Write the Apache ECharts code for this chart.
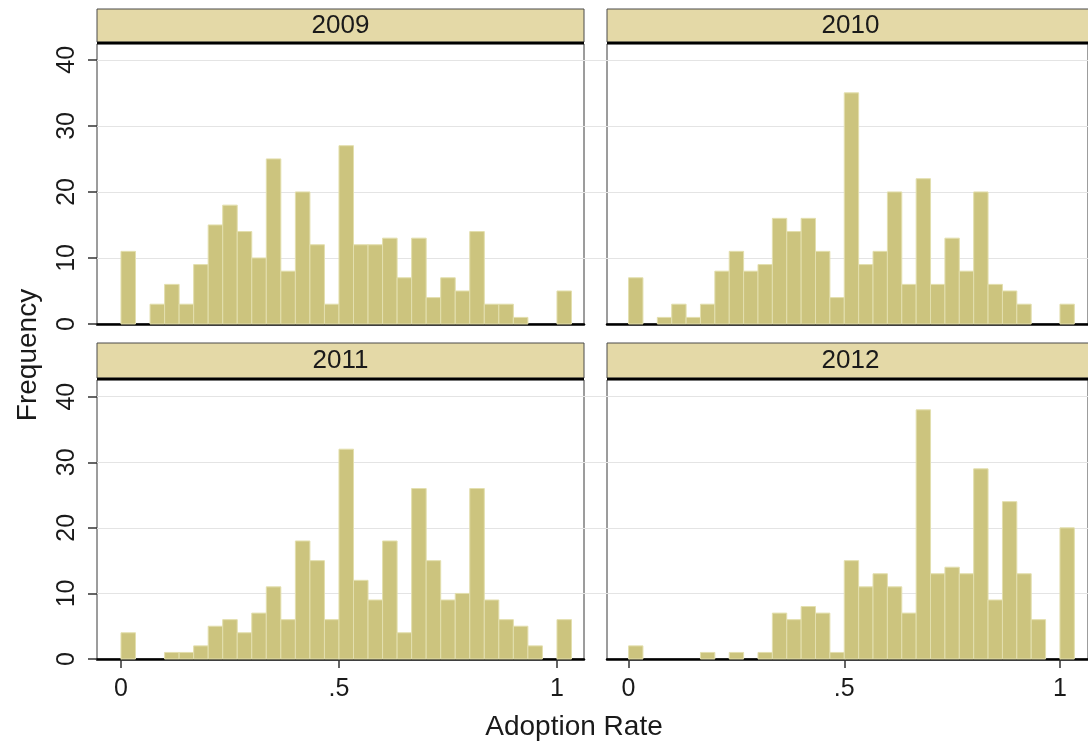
<!DOCTYPE html>
<html>
<head>
<meta charset="utf-8">
<title>Adoption Rate by Year</title>
<script src="https://cdn.jsdelivr.net/npm/echarts@6/dist/echarts.min.js"></script>
<style>
  html, body { margin: 0; padding: 0; background: #ffffff; }
  #chart { width: 1088px; height: 745px; }
</style>
</head>
<body>
<div id="chart"></div>
<script>
// Histogram bins: width 1/30 starting at 0 (the last bin starts at 1.0)
const years = ['2009', '2010', '2011', '2012'];
const binWidth = 1 / 30;

// Frequency per bin, one array per year
const freq2009 = [11, 0, 3, 6, 3, 9, 15, 18, 14, 10, 25, 8, 20, 12, 3, 27, 12, 12, 13, 7, 13, 4, 7, 5, 14, 3, 3, 1, 0, 0, 5];
const freq2010 = [7, 0, 1, 3, 1, 3, 8, 11, 8, 9, 16, 14, 16, 11, 4, 35, 9, 11, 20, 6, 22, 6, 13, 8, 20, 6, 5, 3, 0, 0, 3];
const freq2011 = [4, 0, 0, 1, 1, 2, 5, 6, 4, 7, 11, 6, 18, 15, 6, 32, 12, 9, 18, 4, 26, 15, 9, 10, 26, 9, 6, 5, 2, 0, 6];
const freq2012 = [2, 0, 0, 0, 0, 1, 0, 1, 0, 1, 7, 6, 8, 7, 1, 15, 11, 13, 11, 7, 38, 13, 14, 13, 29, 9, 24, 13, 6, 0, 20];

// Axis ticks
const yTickValues = [0, 10, 20, 30, 40];
const xTickValues = [0, 0.5, 1];
const xTickLabels = ['0', '.5', '1'];

const xTitle = 'Adoption Rate';
const yTitle = 'Frequency';

const allFreq = [freq2009, freq2010, freq2011, freq2012];

// Panel geometry (pixels) and axis extents
const panels = [
  { left: 97,  top: 44,  width: 487, height: 280, xMin: -0.055, xMax: 1.062, yMax: 42.4, stripTop: 9,   stripH: 33, col: 0, row: 0 },
  { left: 607, top: 44,  width: 487, height: 280, xMin: -0.050, xMax: 1.065, yMax: 42.4, stripTop: 9,   stripH: 33, col: 1, row: 0 },
  { left: 97,  top: 380, width: 487, height: 279, xMin: -0.055, xMax: 1.062, yMax: 42.55, stripTop: 343, stripH: 35, col: 0, row: 1 },
  { left: 607, top: 380, width: 487, height: 279, xMin: -0.050, xMax: 1.065, yMax: 42.55, stripTop: 343, stripH: 35, col: 1, row: 1 }
];

const FONT = '"Liberation Sans", Arial, Helvetica, sans-serif';
const BAR_FILL = '#ccc47e';
const BAR_EDGE = '#e3dfae';
const STRIP_FILL = '#e4d9a7';
const GRID_LINE = '#e4e4e4';
const INK = '#1a1a1a';

function renderBin(params, api) {
  const x0 = api.value(0);
  const n = api.value(1);
  if (!n) return null;
  const p0 = api.coord([x0, n]);
  const p1 = api.coord([x0 + binWidth, 0]);
  return {
    type: 'rect',
    shape: { x: p0[0], y: p0[1], width: p1[0] - p0[0], height: p1[1] - p0[1] },
    style: { fill: BAR_FILL, stroke: BAR_EDGE, lineWidth: 1 }
  };
}

const grids = panels.map(p => ({
  left: p.left, top: p.top, width: p.width, height: p.height,
  show: true, backgroundColor: '#ffffff', borderColor: '#3a3a3a', borderWidth: 1
}));

const xAxes = panels.map((p, i) => {
  const bottomRow = p.row === 1;
  return {
    type: 'value', gridIndex: i, min: p.xMin, max: p.xMax,
    axisLine: { show: true, onZero: false, lineStyle: { color: '#000', width: 2.5 } },
    axisTick: { show: bottomRow, customValues: xTickValues, length: 9, lineStyle: { color: '#333', width: 1.5 } },
    axisLabel: {
      show: bottomRow, customValues: xTickValues, margin: 18,
      fontFamily: FONT, fontSize: 25, color: INK,
      formatter: v => xTickLabels[xTickValues.indexOf(v)] ?? ''
    },
    splitLine: { show: false }
  };
});

const yAxes = panels.map((p, i) => {
  const leftCol = p.col === 0;
  const tickVals = leftCol ? yTickValues : yTickValues.slice(1);
  return {
    type: 'value', gridIndex: i, min: 0, max: p.yMax,
    axisLine: { show: false, onZero: false },
    axisTick: {
      show: true, customValues: tickVals,
      length: leftCol ? 9 : 23,
      lineStyle: { color: leftCol ? '#333' : GRID_LINE, width: leftCol ? 1.5 : 1 }
    },
    axisLabel: {
      show: leftCol, customValues: yTickValues, rotate: 90, margin: 17,
      fontFamily: FONT, fontSize: 25, color: INK
    },
    splitLine: { show: true, lineStyle: { color: GRID_LINE, width: 1 } }
  };
});

const series = allFreq.map((freq, i) => ({
  type: 'custom', xAxisIndex: i, yAxisIndex: i,
  renderItem: renderBin,
  encode: { x: 0, y: 1 },
  data: freq.map((n, k) => [k * binWidth, n]),
  silent: true
}));

// Facet strips with year labels
const graphics = [];
panels.forEach((p, i) => {
  graphics.push({
    type: 'rect', z: 10,
    shape: { x: p.left, y: p.stripTop, width: p.width, height: p.stripH },
    style: { fill: STRIP_FILL, stroke: '#4a4a4a', lineWidth: 1 }
  });
  graphics.push({
    type: 'line', z: 11,
    shape: { x1: p.left, y1: p.top - 1, x2: p.left + p.width, y2: p.top - 1 },
    style: { stroke: '#000', lineWidth: 2.5 }
  });
  graphics.push({
    type: 'text', z: 12,
    x: p.left + p.width / 2, y: p.stripTop + p.stripH / 2,
    style: {
      text: years[i], fill: INK, font: '26px ' + FONT,
      textAlign: 'center', textVerticalAlign: 'middle'
    }
  });
});
graphics.push({
  type: 'text', z: 12, x: 28, y: 355, rotation: Math.PI / 2,
  style: { text: yTitle, fill: INK, font: '28px ' + FONT, textAlign: 'center', textVerticalAlign: 'middle' }
});
graphics.push({
  type: 'text', z: 12, x: 574, y: 727,
  style: { text: xTitle, fill: INK, font: '28px ' + FONT, textAlign: 'center', textVerticalAlign: 'middle' }
});

const chart = echarts.init(document.getElementById('chart'), null, { renderer: 'canvas' });
chart.setOption({
  animation: false,
  backgroundColor: '#ffffff',
  grid: grids,
  xAxis: xAxes,
  yAxis: yAxes,
  series: series,
  graphic: graphics
});
</script>
</body>
</html>
